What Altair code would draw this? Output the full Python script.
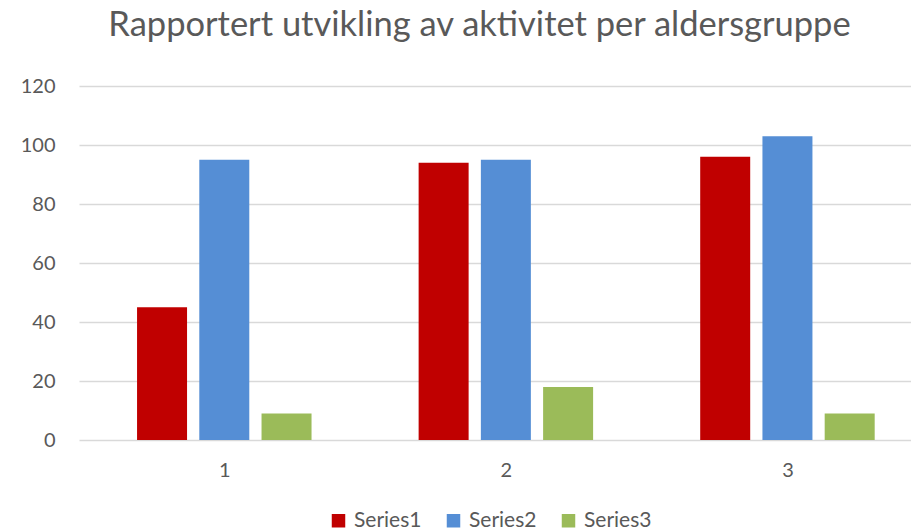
import altair as alt
import pandas as pd

categories = [1, 2, 3]
series_names = ["Series1", "Series2", "Series3"]
series1 = [45, 94, 96]
series2 = [95, 95, 103]
series3 = [9, 18, 9]
colors = ["#C00000", "#558ED5", "#9BBB59"]
title_text = "Rapportert utvikling av aktivitet per aldersgruppe"

rows = []
for si, (name, vals) in enumerate(zip(series_names, [series1, series2, series3])):
    for c, v in zip(categories, vals):
        rows.append({"cat": c, "series": name, "idx": si, "value": v})
df = pd.DataFrame(rows)

FONT = "Lato"
GRAY = "#595959"
W = 832
H = 354
x0 = 1 - 142 / 285

bars = (
    alt.Chart(df)
    .transform_calculate(xpos="datum.cat + (datum.idx - 1) * 63 / 285")
    .mark_bar(size=50)
    .encode(
        x=alt.X(
            "xpos:Q",
            scale=alt.Scale(domain=[x0, x0 + W / 285], nice=False, zero=False),
            axis=alt.Axis(
                values=categories, format="d", grid=False, ticks=False, domain=False,
                title=None, labelFontSize=20, labelColor=GRAY, labelFont=FONT, labelPadding=20,
            ),
        ),
        y=alt.Y(
            "value:Q",
            scale=alt.Scale(domain=[0, 120], nice=False),
            axis=alt.Axis(
                values=[0, 20, 40, 60, 80, 100, 120], grid=True, gridColor="#D9D9D9",
                gridWidth=1.4, ticks=False, domain=False, title=None, labelFontSize=20,
                labelColor=GRAY, labelFont=FONT, labelPadding=24,
            ),
        ),
        color=alt.Color(
            "series:N",
            scale=alt.Scale(domain=series_names, range=colors),
            legend=alt.Legend(
                title=None, orient="none", legendX=249, legendY=424, direction="horizontal",
                symbolType="square", symbolSize=182, symbolStrokeWidth=0, labelFontSize=21,
                labelColor=GRAY, labelFont=FONT, labelOffset=5, columnPadding=21,
            ),
        ),
    )
)

title = (
    alt.Chart(pd.DataFrame({"t": [title_text]}))
    .mark_text(font=FONT, fontSize=34.5, color=GRAY, align="center", baseline="alphabetic")
    .encode(text="t:N", x=alt.value(400.5), y=alt.value(-50))
)

chart = (
    alt.layer(bars, title)
    .properties(
        width=W,
        height=H,
        autosize=alt.AutoSizeParams(type="none"),
        padding={"left": 71, "top": 78, "right": 0, "bottom": 88},
    )
    .configure_view(stroke=None)
)

chart.save("out.html", embed_options={"renderer": "svg", "actions": False})
